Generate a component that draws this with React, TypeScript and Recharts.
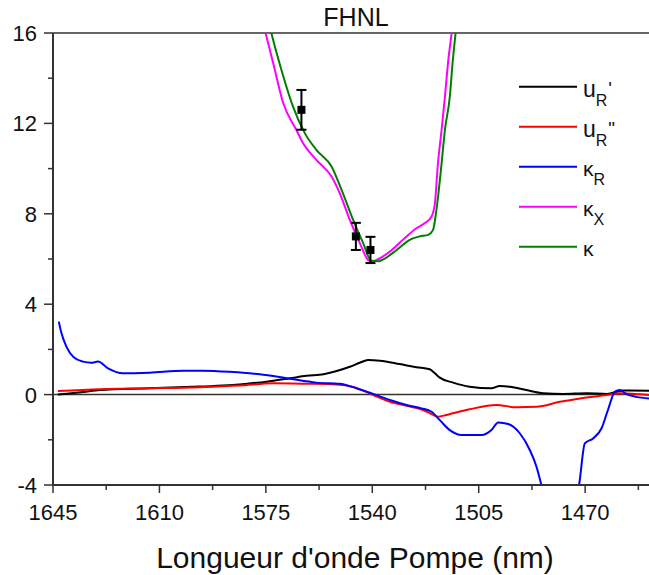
import React from 'react';
import {
  ComposedChart, Line, Scatter, ErrorBar, XAxis, YAxis, ReferenceLine, Legend,
} from 'recharts';

// wavelength (nm) / value pairs
const uR1 = [
  [1643.4, 0.0], [1635, 0.12], [1629.6, 0.2], [1613.2, 0.28], [1596.7, 0.36], [1586, 0.42],
  [1583.6, 0.45], [1574.8, 0.57], [1567.1, 0.72], [1561.6, 0.83], [1556, 0.9], [1552, 1.03],
  [1547.4, 1.23], [1544.1, 1.41], [1541.4, 1.53], [1537.5, 1.5], [1531, 1.35], [1525.5, 1.21],
  [1521.1, 1.12], [1519.4, 0.94], [1517.8, 0.75], [1513.4, 0.53], [1508, 0.35], [1500.8, 0.28],
  [1498.1, 0.38], [1494.8, 0.35], [1489.3, 0.2], [1483.8, 0.06], [1477.2, 0.03], [1469.5, 0.06],
  [1462.9, 0.03], [1457.5, 0.18], [1449, 0.17],
];

const uR2 = [
  [1643.4, 0.16], [1629.6, 0.24], [1613.2, 0.28], [1596.7, 0.33], [1583.6, 0.4], [1572.6, 0.5],
  [1561.6, 0.48], [1551.8, 0.45], [1546.3, 0.34], [1539.7, -0.02], [1534.2, -0.32], [1528.7, -0.5],
  [1523.3, -0.68], [1520, -0.9], [1518.4, -0.98], [1515.6, -0.9], [1508, -0.65], [1499.2, -0.46],
  [1492.6, -0.56], [1486, -0.54], [1478.3, -0.32], [1471.7, -0.17], [1462.9, -0.02], [1458.6, 0.06],
  [1449, -0.02],
];

const kR = [
  [1643.1, 3.23], [1642.2, 2.71], [1640.6, 2.12], [1638.4, 1.68], [1635.1, 1.46], [1632.4, 1.41],
  [1630.2, 1.46], [1626.9, 1.16], [1622, 0.94], [1613.2, 0.97], [1602.2, 1.06], [1595.7, 1.06],
  [1586.9, 1.01], [1580.3, 0.94], [1577, 0.9], [1567.1, 0.7], [1558.4, 0.53], [1550.7, 0.48],
  [1545.2, 0.28], [1539.7, 0.03], [1534.2, -0.24], [1528.7, -0.46], [1523.8, -0.61], [1520.5, -0.76],
  [1517.8, -1.13], [1514.5, -1.57], [1510.7, -1.79], [1504.1, -1.79], [1500.8, -1.57], [1498.6, -1.23],
  [1495.3, -1.3], [1491.5, -1.71], [1488.2, -2.45], [1486, -3.19], [1484.4, -4.0], [1483, -4.8],
  [1473.5, -4.8], [1472, -4.0], [1470.1, -2.16], [1467.4, -1.94], [1464.6, -1.49], [1462.5, -0.68],
  [1460.2, 0.13], [1458.6, 0.2], [1456.4, 0.02], [1453.1, -0.1], [1449, -0.17],
];

const kX = [
  [1577, 17], [1575.1, 16], [1572.6, 14.67], [1569.3, 12.9], [1565, 11.72], [1562.8, 11.13],
  [1558.4, 10.39], [1553.4, 9.65], [1550.7, 8.91], [1547.4, 7.73], [1544.1, 6.7], [1541.4, 5.96],
  [1540.3, 5.89], [1538.6, 5.96], [1534.2, 6.33], [1529.9, 6.85], [1525.5, 7.36], [1522.7, 7.59],
  [1520.5, 7.88], [1519.4, 8.47], [1518.4, 10.24], [1517.2, 11.72], [1516.1, 13.19], [1515.1, 14.67],
  [1513.9, 16], [1513, 17],
];

const kTot = [
  [1575, 17], [1573.2, 16], [1569.9, 14.37], [1566.1, 12.75], [1562.2, 11.57], [1558.4, 10.83],
  [1553.4, 10.09], [1550.1, 9.06], [1546.3, 7.73], [1543, 6.7], [1540.3, 5.92], [1538, 5.9],
  [1536.4, 5.98], [1532, 6.4], [1527.7, 6.85], [1524.4, 7.0], [1521.6, 7.07], [1520, 7.29],
  [1518.9, 8.18], [1517.2, 10.24], [1516.1, 11.72], [1514.5, 13.19], [1513.6, 14.67], [1512.6, 16],
  [1511.8, 17],
];

// measured points: wavelength, value, error
const measured = [
  [1563.3, 12.6, 0.88],
  [1545.4, 7.0, 0.6],
  [1540.6, 6.4, 0.58],
];

const xTicks = [1645, 1627.5, 1610, 1592.5, 1575, 1557.5, 1540, 1522.5, 1505, 1487.5, 1470, 1452.5];
const yTicks = [-4, -2, 0, 2, 4, 6, 8, 10, 12, 14, 16];

const toPts = (arr: number[][]) => arr.map(([wl, v]) => ({ wl, v }));

const SERIES = [
  { key: 'uR1', color: '#000000', data: toPts(uR1), main: 'u', sub: 'R', sup: "'" },
  { key: 'uR2', color: '#ff0000', data: toPts(uR2), main: 'u', sub: 'R', sup: '"' },
  { key: 'kR', color: '#0000ff', data: toPts(kR), main: 'κ', sub: 'R', sup: '' },
  { key: 'kX', color: '#ff00ff', data: toPts(kX), main: 'κ', sub: 'X', sup: '' },
  { key: 'k', color: '#008000', data: toPts(kTot), main: 'κ', sub: '', sup: '' },
];

const points = measured.map(([wl, v, e]) => ({ wl, v, e }));

const FONT = '"Liberation Sans", Arial, sans-serif';
const AXIS = '#333';

const YTick = (props: any) => {
  const { x, y, payload } = props;
  const major = payload.value % 4 === 0;
  return (
    <g>
      <line x1={x - (major ? 9 : 5)} x2={x} y1={y} y2={y} stroke={AXIS} strokeWidth={1.5} />
      {major && (
        <text x={x - 16} y={y + 8} textAnchor="end" fontSize={22} fontFamily={FONT} fill="#111">
          {payload.value}
        </text>
      )}
    </g>
  );
};

const XTick = (props: any) => {
  const { x, y, payload } = props;
  const major = Number.isInteger(payload.value);
  return (
    <g>
      <line x1={x} x2={x} y1={y} y2={y + (major ? 8 : 5)} stroke={AXIS} strokeWidth={1.5} />
      {major && (
        <text x={x} y={y + 35} textAnchor="middle" fontSize={22} fontFamily={FONT} fill="#111">
          {payload.value}
        </text>
      )}
    </g>
  );
};

const renderLegend = () => (
  <svg width={130} height={200} style={{ display: 'block' }}>
    {SERIES.map((s, i) => {
      const ly = 16.7 + i * 40;
      const isU = s.main === 'u';
      return (
        <g key={s.key}>
          <line x1={4} x2={62} y1={ly} y2={ly} stroke={s.color} strokeWidth={2} />
          <text x={68} y={ly + (isU ? 10 : 9)} fontSize={isU ? 23 : 21} fontFamily={FONT} fill="#111">
            {s.main}
            {s.sub && <tspan fontSize={16} dy={9}>{s.sub}</tspan>}
            {s.sup && <tspan fontSize={19} dx={1} dy={-11}>{s.sup}</tspan>}
          </text>
        </g>
      );
    })}
  </svg>
);

const Square = (props: any) => (
  <rect x={props.cx - 4} y={props.cy - 4} width={8} height={8} fill="#000" />
);

export default function App() {
  return (
    <div style={{ position: 'absolute', left: 0, top: 0 }}>
      <ComposedChart
        width={649}
        height={575}
        margin={{ top: 33, right: 0, bottom: 0, left: 0 }}
        style={{ fontFamily: FONT }}
      >
        <XAxis
          dataKey="wl"
          type="number"
          domain={[1449, 1645]}
          reversed
          ticks={xTicks}
          interval={0}
          height={90}
          tickSize={0}
          tickMargin={0}
          tickLine={false}
          tick={<XTick />}
          axisLine={{ stroke: AXIS, strokeWidth: 2 }}
          allowDataOverflow
          label={{
            value: "Longueur d'onde Pompe (nm)",
            position: 'insideBottom',
            offset: 7,
            dx: 4,
            fontSize: 30,
            fill: '#111',
            fontFamily: FONT,
          }}
        />
        <YAxis
          type="number"
          domain={[-4, 16]}
          ticks={yTicks}
          interval={0}
          width={53}
          tickSize={0}
          tickMargin={0}
          tickLine={false}
          tick={<YTick />}
          axisLine={{ stroke: AXIS, strokeWidth: 2 }}
          allowDataOverflow
        />
        <ReferenceLine
          y={16}
          stroke={AXIS}
          strokeWidth={1.5}
          label={{ value: 'FHNL', position: 'top', offset: 7, dx: 5, fontSize: 25, fill: '#111', fontFamily: FONT }}
        />
        <ReferenceLine y={0} stroke={AXIS} strokeWidth={1.5} />
        {SERIES.map((s) => (
          <Line
            key={s.key}
            data={s.data}
            dataKey="v"
            type="monotone"
            stroke={s.color}
            strokeWidth={2}
            dot={false}
            isAnimationActive={false}
            legendType="none"
          />
        ))}
        <Scatter data={points} dataKey="v" shape={<Square />} isAnimationActive={false} legendType="none">
          <ErrorBar dataKey="e" direction="y" width={5} stroke="#000" strokeWidth={2} />
        </Scatter>
        <Legend
          content={renderLegend}
          layout="horizontal"
          verticalAlign="middle"
          align="center"
          width={130}
          wrapperStyle={{ left: 515, top: 70, width: 130 }}
        />
      </ComposedChart>
    </div>
  );
}
